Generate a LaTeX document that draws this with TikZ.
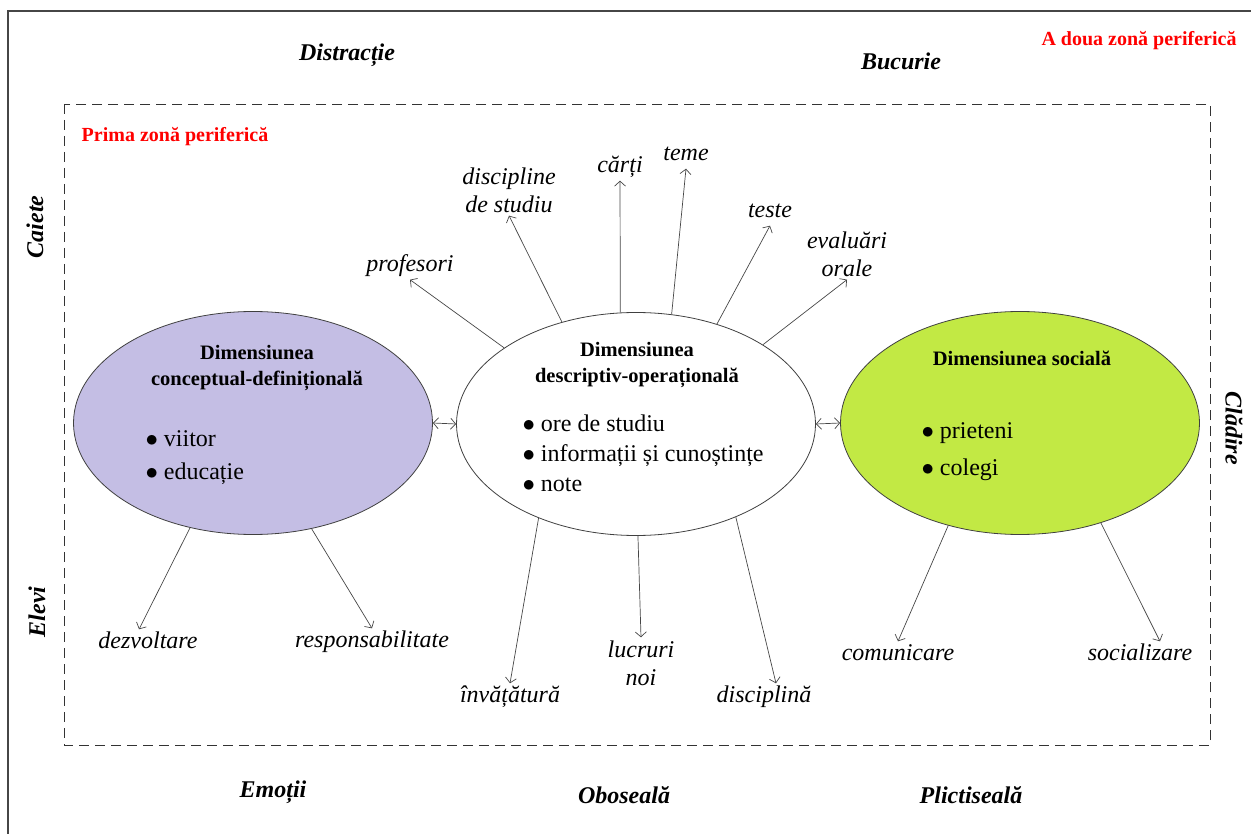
\documentclass[tikz,border=0pt]{standalone}
\usepackage{fontspec}
\setmainfont{Liberation Serif}
\usepackage{xcolor}
\usetikzlibrary{shapes,arrows.meta,positioning}
\definecolor{conceptcolor}{RGB}{196,190,228}
\definecolor{socialcolor}{RGB}{194,233,68}
\definecolor{linecolor}{RGB}{70,70,70}
\definecolor{zonecolor}{RGB}{255,0,0}

\begin{document}
\begin{tikzpicture}[
    x=1pt, y=-1pt,
    dim/.style={ellipse, draw=black!75, line width=0.8pt, minimum width=359pt, minimum height=223pt, inner sep=0pt},
    title/.style={font=\fontsize{20.5}{26}\selectfont\bfseries, align=center},
    items/.style={align=left, anchor=west},
    term/.style={font=\fontsize{24}{28}\selectfont\itshape, inner xsep=1pt, inner ysep=3pt, text height=16pt, text depth=5pt},
    termtwo/.style={font=\fontsize{24}{28}\selectfont\itshape, align=center, inner sep=3pt},
    outer/.style={font=\fontsize{24}{30}\selectfont\bfseries\itshape},
    zone/.style={font=\fontsize{20}{24}\selectfont\bfseries, text=zonecolor},
    periphery/.style={draw=black!80, line width=0.8pt, dash pattern=on 10pt off 6pt},
    arrow/.style={-{Straight Barb[length=5pt,width=11pt]}, draw=linecolor, line width=0.7pt},
    link/.style={{Straight Barb[length=5pt,width=11pt]}-{Straight Barb[length=5pt,width=11pt]}, draw=linecolor, line width=0.7pt}
]
\useasboundingbox (0,0) rectangle (1251,834);
\draw[linecolor, line width=1.2pt] (8,834) -- (8,11) -- (1251,11);
\draw[periphery] (64,104) rectangle (1210,745);

\node[dim, fill=conceptcolor] (concept) at (253,423) {};
\node[dim, fill=white] (descr) at (636,424) {};
\node[dim, fill=socialcolor] (social) at (1020,423) {};

\node[title] (concepttitle) at (257,368) {Dimensiunea\\conceptual-definițională};
\node[items, font=\fontsize{24}{33}\selectfont] (conceptitems) at (142,458) {$\bullet$ viitor\\$\bullet$ educație};
\node[title] (descrtitle) at (637,365) {Dimensiunea\\descriptiv-operațională};
\node[items, font=\fontsize{24}{30}\selectfont] (descritems) at (519,453) {$\bullet$ ore de studiu\\$\bullet$ informații și cunoștințe\\$\bullet$ note};
\node[title] (socialtitle) at (1022,358) {Dimensiunea socială};
\node[items, font=\fontsize{24}{37}\selectfont] (socialitems) at (918,452) {$\bullet$ prieteni\\$\bullet$ colegi};

\node[term] (profesori) at (410,266) {profesori};
\node[termtwo] (discipline) at (509,190) {discipline\\de studiu};
\node[term] (carti) at (620,167) {cărți};
\node[term] (teme) at (686,155) {teme};
\node[term] (teste) at (770,212) {teste};
\node[termtwo] (evaluari) at (847,254) {evaluări\\orale};
\node[term] (invatatura) at (510,697) {învățătură};
\node[termtwo] (lucruri) at (641,663) {lucruri\\noi};
\node[term] (disciplina) at (764,697) {disciplină};
\node[term] (dezvoltare) at (148,643) {dezvoltare};
\node[term] (responsabilitate) at (372,642) {responsabilitate};
\node[term] (comunicare) at (898,655) {comunicare};
\node[term] (socializare) at (1140,655) {socializare};

\draw[link] (concept.east) -- (descr.west);
\draw[link] (descr.east) -- (social.west);

\draw[arrow] (descr.150) -- (profesori.south);
\draw[arrow] (descr.126) -- (discipline.south);
\draw[arrow] (descr.98) -- (carti.south);
\draw[arrow] (descr.72) -- (teme.south);
\draw[arrow] (descr.51) -- (teste.south);
\draw[arrow] (descr.32) -- (evaluari.south);
\draw[arrow] (descr.224) -- (invatatura.north);
\draw[arrow] (descr.271) -- (lucruri.north);
\draw[arrow] (descr.317) -- ([xshift=12pt]disciplina.north);
\draw[arrow] (concept.239) -- ([xshift=-9pt]dezvoltare.north);
\draw[arrow] (concept.299) -- (responsabilitate.north);
\draw[arrow] (social.235) -- (comunicare.north);
\draw[arrow] (social.309) -- ([xshift=20pt]socializare.north);

\node[outer] (distractie) at (347,55) {Distracție};
\node[outer] (bucurie) at (901,61) {Bucurie};
\node[outer] (emotii) at (273,792) {Emoții};
\node[outer] (oboseala) at (624,795) {Oboseală};
\node[outer] (plictiseala) at (971,795) {Plictiseală};
\node[outer, rotate=90] (caiete) at (35,227) {Caiete};
\node[outer, rotate=90] (elevi) at (37,612) {Elevi};
\node[outer, rotate=-90] (cladire) at (1234,428) {Clădire};
\node[zone] (zonaunu) at (175,137) {Prima zonă periferică};
\node[zone] (zonadoi) at (1139,41) {A doua zonă periferică};
\end{tikzpicture}
\end{document}
